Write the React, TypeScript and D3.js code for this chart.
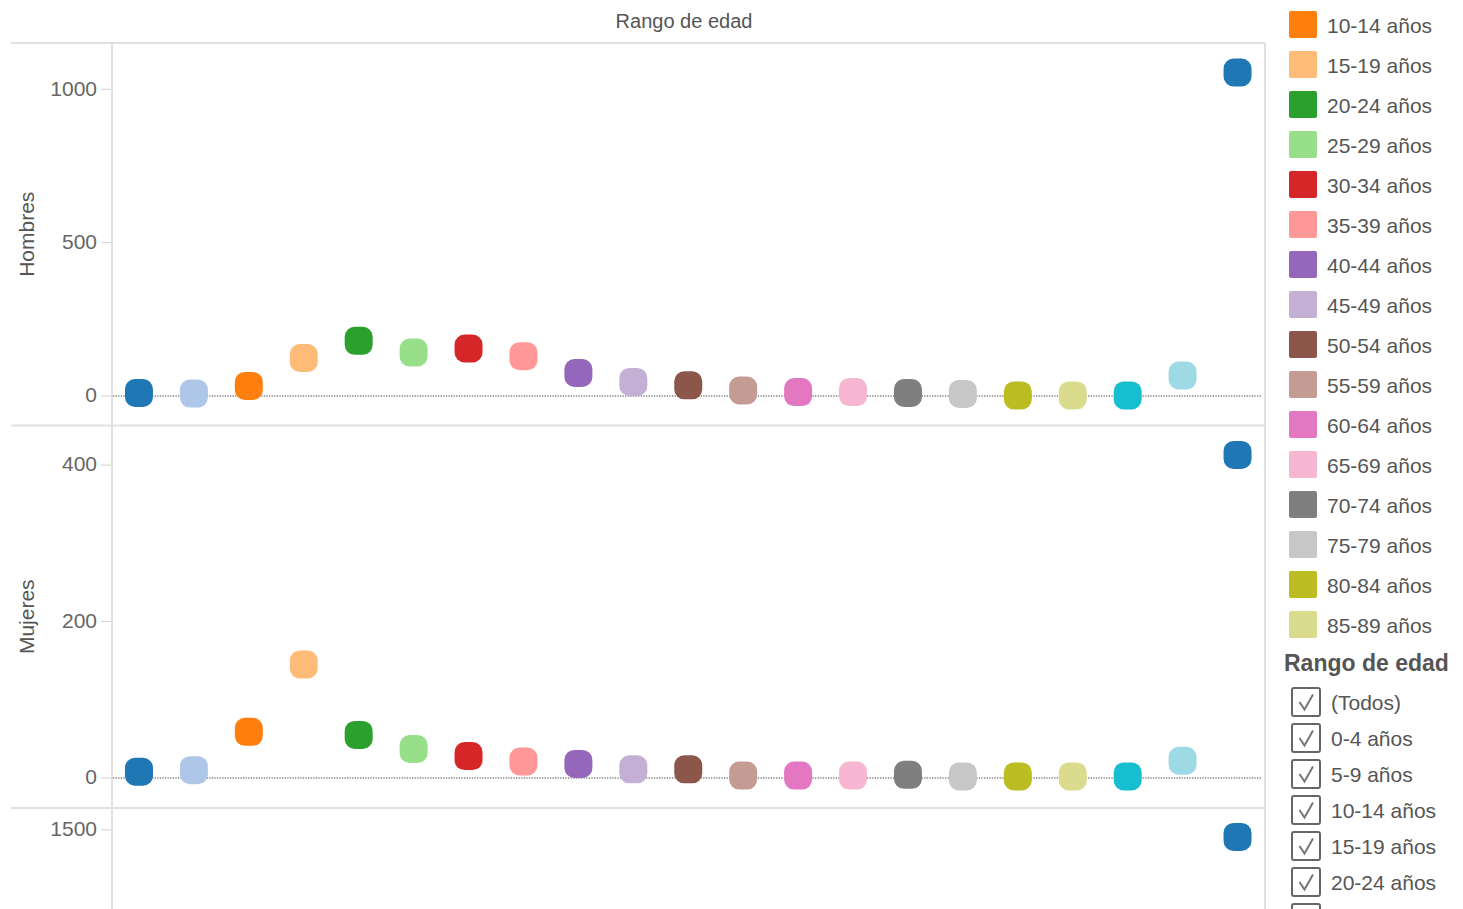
import React from "react";
import * as d3 from "d3";

const categories = [
  "0-4 años", "5-9 años", "10-14 años", "15-19 años", "20-24 años", "25-29 años",
  "30-34 años", "35-39 años", "40-44 años", "45-49 años", "50-54 años", "55-59 años",
  "60-64 años", "65-69 años", "70-74 años", "75-79 años", "80-84 años", "85-89 años",
  "90-94 años", "95 y más años", "Total",
];
const palette = [
  "#1f77b4", "#aec7e8", "#ff7f0e", "#ffbb78", "#2ca02c", "#98df8a", "#d62728",
  "#ff9896", "#9467bd", "#c5b0d5", "#8c564b", "#c49c94", "#e377c2", "#f7b6d2",
  "#7f7f7f", "#c7c7c7", "#bcbd22", "#dbdb8d", "#17becf", "#9edae5",
];
const hombres = [10, 8, 33, 124, 180, 142, 155, 130, 75, 46, 35, 18, 13, 13, 10, 7, 2, 2, 2, 67, 1055];
const mujeres = [8, 10, 59, 145, 55, 37, 28, 21, 18, 11, 11, 3, 3, 3, 4, 2, 2, 2, 2, 22, 413];
const totales = [18, 18, 92, 269, 235, 179, 183, 151, 93, 57, 46, 21, 16, 16, 14, 9, 4, 4, 4, 89, 1468];
const rowNames = ["Hombres", "Mujeres", "Total"];
const ticksHombres = [0, 500, 1000];
const ticksMujeres = [0, 200, 400];
const ticksTotal = [0, 500, 1000, 1500];
const domainHombres = [-96, 1151];
const domainMujeres = [-38.4, 450.6];
const domainTotal = [-136, 1599];
const legendItems = categories.slice(2, 18);
const filterItems = ["(Todos)", "0-4 años", "5-9 años", "10-14 años", "15-19 años", "20-24 años", "25-29 años"];
const columnTitle = "Rango de edad";

const W = 1463;
const H = 909;
const FONT = "'Liberation Sans', Arial, sans-serif";
const TEXT = "#555";
const GRID = "#e0e0e0";

export default function App() {
  const plotLeft = 112;
  const plotRight = 1265;
  const top = 43;
  const panelH = 382.5;
  const x = d3.scaleBand<string>().domain(categories).range([plotLeft - 0.5, plotRight]);
  const cx = (c: string) => (x(c) as number) + x.bandwidth() / 2;
  const color = d3.scaleOrdinal<string, string>().domain(categories).range(palette);

  const panels = [
    { name: rowNames[0], values: hombres, ticks: ticksHombres, domain: domainHombres },
    { name: rowNames[1], values: mujeres, ticks: ticksMujeres, domain: domainMujeres },
    { name: rowNames[2], values: totales, ticks: ticksTotal, domain: domainTotal },
  ].map((p, i) => {
    const y0 = top + i * panelH;
    const y = d3.scaleLinear().domain(p.domain).range([y0 + panelH, y0]);
    return { ...p, y, y0 };
  });

  const visible = (yy: number) => yy < H - 12;

  const dot = 28;
  const legendX = 1289;
  const legendY0 = 11;
  const legendStep = 40;
  const filterY0 = 688;
  const filterStep = 36;

  return (
    <svg
      width={W}
      height={H}
      style={{ position: "absolute", left: 0, top: 0, display: "block", background: "#fff" }}
      fontFamily={FONT}
    >
      <text x={684} y={28} textAnchor="middle" fontSize={20} fill={TEXT}>
        {columnTitle}
      </text>

      {panels.map((p) => (
        <g key={p.name}>
          <line x1={11} x2={plotRight} y1={p.y0} y2={p.y0} stroke={GRID} strokeWidth={2} />
          {visible(p.y0 + panelH / 2 + 45) && (
            <text
              transform={`translate(34,${p.y0 + panelH / 2}) rotate(-90)`}
              textAnchor="middle"
              fontSize={21}
              fill={TEXT}
            >
              {p.name}
            </text>
          )}
          {p.ticks
            .filter((t) => visible(p.y(t)))
            .map((t) => (
              <g key={t}>
                <line x1={101} x2={111} y1={p.y(t)} y2={p.y(t)} stroke="#d0d0d0" strokeWidth={1} />
                <text x={97} y={p.y(t) - 1} dy="0.35em" textAnchor="end" fontSize={21} fill="#666">
                  {t}
                </text>
              </g>
            ))}
          {visible(p.y(0)) && (
            <line
              x1={plotLeft + 1}
              x2={plotRight - 3}
              y1={p.y(0)}
              y2={p.y(0)}
              stroke="#808080"
              strokeWidth={1.5}
              strokeDasharray="1.3,1.3"
            />
          )}
          {categories.map((c, j) => (
            <rect
              key={c}
              x={cx(c) - dot / 2}
              y={p.y(p.values[j]) - dot / 2}
              width={dot}
              height={dot}
              rx={10}
              ry={10}
              fill={color(c)}
            />
          ))}
        </g>
      ))}

      <line x1={plotLeft} x2={plotLeft} y1={top} y2={H} stroke={GRID} strokeWidth={2} />
      <line x1={plotRight} x2={plotRight} y1={top} y2={H} stroke={GRID} strokeWidth={2} />

      {legendItems.map((c, i) => (
        <g key={c} transform={`translate(${legendX},${legendY0 + i * legendStep})`}>
          <rect width={28} height={27} rx={2} fill={color(c)} />
          <text x={38} y={15} dy="0.35em" fontSize={21} fill={TEXT}>
            {c}
          </text>
        </g>
      ))}

      <text x={1284} y={671} fontSize={23} fontWeight="bold" fill={TEXT}>
        {columnTitle}
      </text>

      {filterItems.map((c, i) => {
        const fy = filterY0 + i * filterStep;
        return (
          <g key={c} transform={`translate(1292,${fy})`}>
            <rect width={28} height={28} rx={2} fill="#fff" stroke="#666" strokeWidth={2} />
            <path d="M7.5,14 L12.5,21.5 L21,6.5" fill="none" stroke="#777" strokeWidth={2} />
            {visible(fy + 14) && (
              <text x={39} y={15} dy="0.35em" fontSize={21} fill={TEXT}>
                {c}
              </text>
            )}
          </g>
        );
      })}
    </svg>
  );
}
